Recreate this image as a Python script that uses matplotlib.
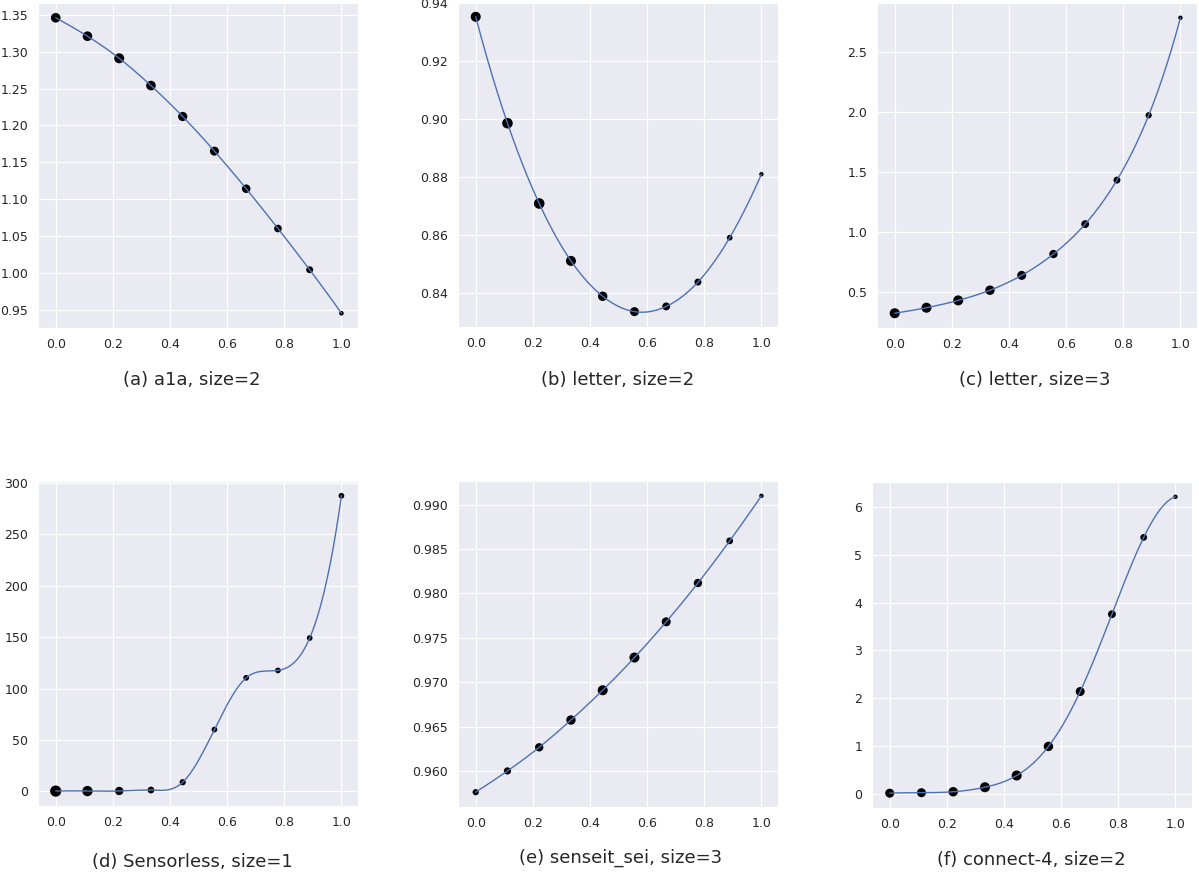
import numpy as np
import matplotlib
matplotlib.use('Agg')
import matplotlib.pyplot as plt
import seaborn as sns

sns.set_style('darkgrid')

x = np.linspace(0, 1, 10)

a1a_y = [1.346, 1.321, 1.291, 1.254, 1.212, 1.165, 1.114, 1.060, 1.004, 0.945]
a1a_s = [48, 48, 52, 48, 44, 42, 38, 30, 25, 11]

letter2_y = [0.9351, 0.8984, 0.8707, 0.8509, 0.8387, 0.8334, 0.8352, 0.8436, 0.8589, 0.8808]
letter2_s = [52, 58, 58, 52, 46, 42, 32, 25, 17, 10]

letter3_y = [0.319, 0.365, 0.426, 0.511, 0.635, 0.813, 1.063, 1.430, 1.971, 2.785]
letter3_s = [52, 52, 52, 46, 42, 36, 32, 25, 20, 10]

sensorless_y = [0.3, 0.3, 0.4, 1.3, 8.9, 60.1, 110.4, 117.6, 149.1, 287.4]
sensorless_s = [65, 55, 36, 24, 20, 17, 17, 17, 17, 17]

senseit_y = [0.95764, 0.96003, 0.96269, 0.96576, 0.96911, 0.97279, 0.97681, 0.98118, 0.98592, 0.99099]
senseit_s = [20, 27, 36, 46, 52, 52, 42, 36, 24, 10]

connect4_y = [0.01, 0.02, 0.04, 0.135, 0.38, 0.99, 2.14, 3.76, 5.37, 6.22]
connect4_s = [42, 42, 46, 52, 52, 46, 42, 32, 24, 10]

captions = ['(a) a1a, size=2', '(b) letter, size=2', '(c) letter, size=3',
            '(d) Sensorless, size=1', '(e) senseit_sei, size=3', '(f) connect-4, size=2']


def spline(xk, yk, xs):
    # cubic spline, not-a-knot ends, uniform knots
    yk = np.asarray(yk, dtype=float)
    n = len(xk)
    h = xk[1] - xk[0]
    A = np.zeros((n, n))
    b = np.zeros(n)
    A[0, 0:3] = [1, -2, 1]
    A[-1, -3:] = [1, -2, 1]
    for i in range(1, n - 1):
        A[i, i - 1:i + 2] = [1, 4, 1]
        b[i] = 6.0 / h**2 * (yk[i - 1] - 2 * yk[i] + yk[i + 1])
    M = np.linalg.solve(A, b)
    idx = np.clip(((xs - xk[0]) / h).astype(int), 0, n - 2)
    x0 = xk[idx]
    x1 = xk[idx + 1]
    out = (M[idx] * (x1 - xs)**3 / (6 * h) + M[idx + 1] * (xs - x0)**3 / (6 * h)
           + (yk[idx] / h - M[idx] * h / 6) * (x1 - xs)
           + (yk[idx + 1] / h - M[idx + 1] * h / 6) * (xs - x0))
    return out


W, H = 1199, 872
fig = plt.figure(figsize=(W / 100, H / 100), dpi=100)

# (left, top, right, bottom) in pixels, caption centre (x, y)
boxes = [(38, 3, 358, 328), (458, 2, 778, 327), (877, 3, 1197, 328),
         (38, 481, 358, 806), (458, 481, 778, 807), (872, 482, 1192, 808)]
cap_pos = [(192, 380), (618, 380), (1035, 380), (192, 862), (621, 858), (1031, 860)]

series = [(a1a_y, a1a_s), (letter2_y, letter2_s), (letter3_y, letter3_s),
          (sensorless_y, sensorless_s), (senseit_y, senseit_s), (connect4_y, connect4_s)]

xs = np.linspace(0, 1, 400)
for (l, t, r, btm), (ys, ss), cap, (cx, cy) in zip(boxes, series, captions, cap_pos):
    ax = fig.add_axes([l / W, 1 - btm / H, (r - l) / W, (btm - t) / H])
    ax.scatter(x, ys, s=ss, c='black', linewidths=0, zorder=2)
    ax.plot(xs, spline(x, ys, xs), color='#4C72B0', lw=1.0, zorder=3)
    ax.set_xlim(-0.062, 1.058)
    ax.set_xticks([0, 0.2, 0.4, 0.6, 0.8, 1.0])
    ax.tick_params(labelsize=9)
    fig.text(cx / W, 1 - cy / H, cap, ha='center', va='center', fontsize=13)

fig.savefig('out.png', dpi=100)
